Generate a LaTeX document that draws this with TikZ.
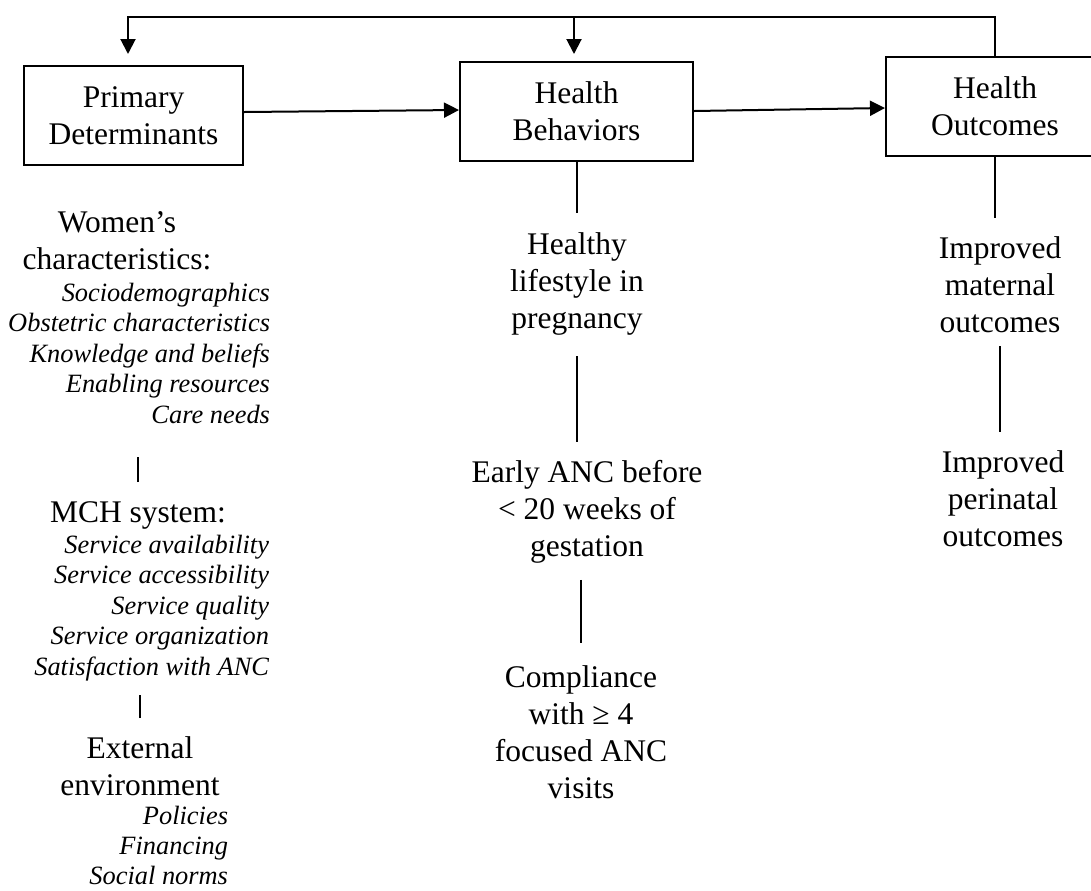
\documentclass[tikz,border=0pt]{standalone}
\usepackage{fontspec}
\setmainfont{Liberation Serif}
\usetikzlibrary{arrows.meta}
\newcommand\mainfnt{\fontsize{15.75}{18.5}\selectfont}
\newcommand\listfnt{\fontsize{13.2}{15.25}\selectfont\itshape}
\tikzset{
  box/.style={draw, minimum height=49.5pt, inner sep=0pt, align=center, font=\mainfnt},
  txt/.style={anchor=north, inner sep=0pt, align=center, font=\mainfnt},
  lst/.style={anchor=north east, inner sep=0pt, align=right, font=\listfnt},
}
\begin{document}
\begin{tikzpicture}[x=0.5pt, y=-0.5pt, >={Triangle[length=7.5pt,width=7.5pt]}, line width=1pt]
\useasboundingbox (0,0) rectangle (1091,890);
\clip (0,0) rectangle (1091,890);
\node[box, minimum width=109.5pt] (pd) at (133.5,115.5) {Primary\\Determinants};
\node[box, minimum width=116.5pt] (hb) at (576.5,111.5) {Health\\Behaviors};
\node[box, minimum width=109pt] (ho) at (995,106.5) {Health\\Outcomes};
\coordinate (fbl) at (128,17);
\coordinate (fbm) at (574,17);
\draw[->, shorten >=5.5pt] (ho.north) |- (fbl) -- (fbl |- pd.north);
\draw[->, shorten >=3.5pt] (fbm) -- (fbm |- hb.north);
\draw[->] ([yshift=1.75pt]pd.east) -- ([yshift=0.75pt]hb.west);
\draw[->] ([yshift=0.25pt]hb.east) -- ([yshift=-0.75pt]ho.west);

\node[txt] (wom) at (117,211) {Women’s\\characteristics:};
\node[lst] (woml) at (271,282) {Sociodemographics\\Obstetric characteristics\\Knowledge and beliefs\\Enabling resources\\Care needs};
\node[txt] (mch) at (138,501) {MCH system:};
\node[lst] (mchl) at (270,534) {Service availability\\Service accessibility\\Service quality\\Service organization\\Satisfaction with ANC};
\node[txt] (ext) at (140,736) {External\\environment};
\node[lst, font=\fontsize{13.2}{15}\selectfont\itshape] (extl) at (229,805) {Policies\\Financing\\Social norms};
\draw[shorten <=9.5pt, shorten >=16pt] (mch.north) -- (mch.north |- woml.south);
\draw[shorten <=9pt, shorten >=6.5pt] (ext.north) -- (ext.north |- mchl.south);

\node[txt] (hl) at (577,231.5) {Healthy\\lifestyle in\\pregnancy};
\node[txt] (early) at (587,459) {Early ANC before\\< 20 weeks of\\gestation};
\node[txt] (comp) at (581,665) {Compliance\\with ≥ 4\\focused ANC\\visits};
\draw[shorten >=9.25pt] (hb.south) -- (hb.south |- hl.north);
\draw[shorten <=10pt, shorten >=8.5pt] (hl.south) -- (hl.south |- early.north);
\draw[shorten <=8pt, shorten >=11pt] (comp.north |- early.south) -- (comp.north);

\node[txt] (imat) at (1000,236) {Improved\\maternal\\outcomes};
\node[txt] (iper) at (1003,450) {Improved\\perinatal\\outcomes};
\draw[shorten >=9pt] (ho.south) -- (ho.south |- imat.north);
\draw[shorten <=6pt, shorten >=9pt] (imat.south) -- (imat.south |- iper.north);
\end{tikzpicture}
\end{document}
